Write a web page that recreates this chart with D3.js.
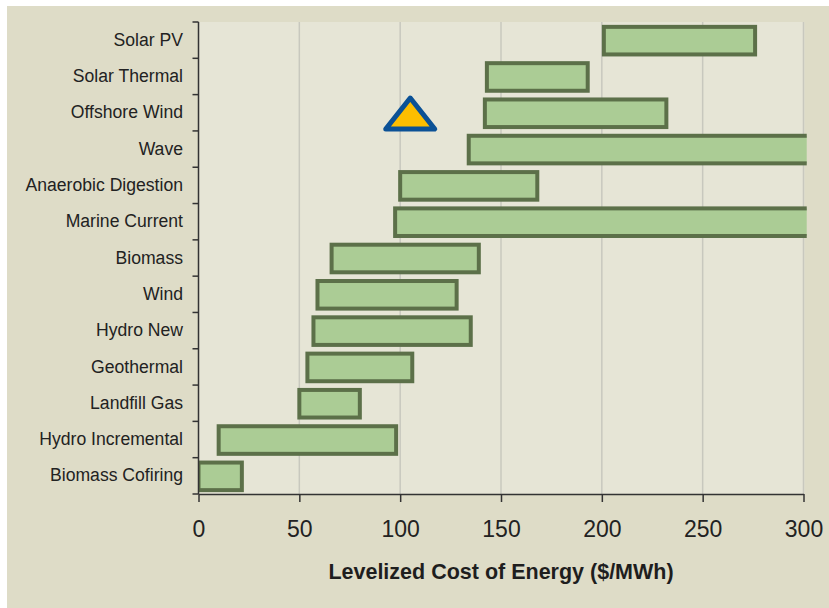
<!DOCTYPE html>
<html>
<head>
<meta charset="utf-8">
<script src="https://cdn.jsdelivr.net/npm/d3@7"></script>
<style>
  html, body { margin: 0; padding: 0; background: #ffffff; }
  svg { display: block; font-family: "Liberation Sans", Arial, sans-serif; }
</style>
</head>
<body>
<svg id="chart" width="829" height="608"></svg>
<script>
// Technologies, top to bottom
const categories = [
  "Solar PV", "Solar Thermal", "Offshore Wind", "Wave", "Anaerobic Digestion",
  "Marine Current", "Biomass", "Wind", "Hydro New", "Geothermal",
  "Landfill Gas", "Hydro Incremental", "Biomass Cofiring"
];
// Cost range, $/MWh (low and high end of each bar)
const lowCost  = [201, 143, 142, 134, 100, 97.5, 66, 59, 57, 54, 50, 10, 0];
const highCost = [276, 193, 232, 320, 168, 320, 139, 128, 135, 106, 80, 98, 21.5];
// Single point estimate shown as a triangle
const markerCategory = "Offshore Wind";
const markerValue = 105;
// Axis ticks
const xTicks = [0, 50, 100, 150, 200, 250, 300];
const xTitle = "Levelized Cost of Energy ($/MWh)";

const svg = d3.select("#chart");
const W = 829, H = 608;
const plot = { left: 198.5, right: 803.5, top: 22, bottom: 494 };

// Page backgrounds
svg.append("rect").attr("width", W).attr("height", H).attr("fill", "#ffffff");
svg.append("rect").attr("x", 7).attr("y", 6).attr("width", W - 7).attr("height", H - 6)
  .attr("fill", "#dedcc7");
svg.append("rect")
  .attr("x", plot.left).attr("y", plot.top)
  .attr("width", plot.right - plot.left + 1).attr("height", plot.bottom - plot.top)
  .attr("fill", "#e6e5d6");

const x = d3.scaleLinear().domain([0, 300]).range([plot.left, plot.right]);
const y = d3.scaleBand().domain(categories).range([plot.top, plot.bottom]).padding(0);

// Vertical gridlines
svg.append("g").selectAll("line")
  .data(xTicks.filter(t => t > 0))
  .join("line")
  .attr("x1", d => x(d)).attr("x2", d => x(d))
  .attr("y1", plot.top).attr("y2", plot.bottom)
  .attr("stroke", "#c8c8be").attr("stroke-width", 1.5);

// Bars, clipped at the plot edges
svg.append("defs").append("clipPath").attr("id", "plotClip")
  .append("rect")
  .attr("x", x(0)).attr("y", plot.top)
  .attr("width", x(301.6) - x(0)).attr("height", plot.bottom - plot.top);

const rows = categories.map((c, i) => ({ name: c, lo: lowCost[i], hi: highCost[i] }));
const barH = y.bandwidth() * 0.76;

svg.append("g").attr("clip-path", "url(#plotClip)")
  .selectAll("rect")
  .data(rows)
  .join("rect")
  .attr("x", d => x(d.lo))
  .attr("width", d => x(d.hi) - x(d.lo))
  .attr("y", d => y(d.name) + (y.bandwidth() - barH) / 2 + 0.5)
  .attr("height", barH)
  .attr("fill", "#abcc95")
  .attr("stroke", "#5c7049")
  .attr("stroke-width", 4);

// Triangle marker
const cx = x(markerValue);
const cy = y(markerCategory) + y.bandwidth() / 2 + 0.8;
const halfW = 24.5, halfH = 15.5;
svg.append("path")
  .attr("d", `M${cx},${cy - halfH} L${cx + halfW},${cy + halfH} L${cx - halfW},${cy + halfH} Z`)
  .attr("fill", "#fdbe00")
  .attr("stroke", "#0b5196")
  .attr("stroke-width", 5)
  .attr("stroke-linejoin", "round");

// Y axis: labels centred on bands, ticks at band boundaries
const yAxis = svg.append("g")
  .attr("transform", `translate(${plot.left},0)`)
  .call(d3.axisLeft(y).tickSize(0).tickPadding(15.5));
yAxis.select(".domain").remove();
yAxis.selectAll("text")
  .attr("font-size", 17.6).attr("fill", "#222").attr("font-family", "Liberation Sans, Arial, sans-serif");

const boundaries = categories.map(c => y(c)).concat([plot.bottom]);
svg.append("g").selectAll("line")
  .data(boundaries)
  .join("line")
  .attr("x1", plot.left - 6).attr("x2", plot.left)
  .attr("y1", d => d).attr("y2", d => d)
  .attr("stroke", "#333").attr("stroke-width", 1.5);
svg.append("line")
  .attr("x1", plot.left).attr("x2", plot.left)
  .attr("y1", plot.top).attr("y2", plot.bottom)
  .attr("stroke", "#333").attr("stroke-width", 1.5);

// X axis
const xAxis = svg.append("g")
  .attr("transform", `translate(0,${plot.bottom})`)
  .call(d3.axisBottom(x).tickValues(xTicks).tickSize(8).tickSizeOuter(0).tickPadding(19));
xAxis.select(".domain").attr("stroke", "#333").attr("stroke-width", 1.5);
xAxis.selectAll(".tick line").attr("stroke", "#333").attr("stroke-width", 1.5);
xAxis.selectAll("text")
  .attr("font-size", 23).attr("fill", "#222").attr("font-family", "Liberation Sans, Arial, sans-serif");

// X axis title
svg.append("text")
  .attr("x", (plot.left + plot.right) / 2)
  .attr("y", 579)
  .attr("text-anchor", "middle")
  .attr("font-size", 21.5)
  .attr("font-weight", "bold")
  .attr("fill", "#1e1e1e")
  .text(xTitle);
</script>
</body>
</html>
